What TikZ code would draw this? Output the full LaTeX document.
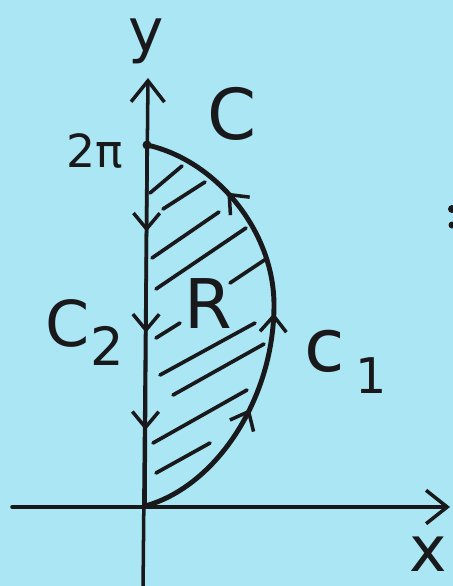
\documentclass[tikz,border=0pt]{standalone}
\usepackage{fontspec}
\setmainfont{DejaVu Sans}
\usetikzlibrary{arrows.meta,decorations.markings}
\definecolor{bgblue}{RGB}{170,230,244}
\definecolor{ink}{RGB}{25,25,28}
\begin{document}
\begin{tikzpicture}[x=0.02cm,y=-0.02cm,
  axisline/.style={draw=ink,line width=2pt,line cap=round},
  curveline/.style={draw=ink,line width=2.8pt,line cap=round},
  hatchline/.style={draw=ink,line width=2.1pt,line cap=round},
  bigbarb/.style={-{Straight Barb[length=12pt,width=19pt,line width=2pt]}},
  lab/.style={text=ink,inner sep=0pt,outer sep=0pt},
  smallarrow/.tip={Straight Barb[length=9pt,width=15pt,line width=2pt]}
]
\fill[bgblue] (0,0) rectangle (453,586);
\useasboundingbox (0,0) rectangle (453,586);

% key points
\coordinate (O) at (145,506);
\coordinate (T) at (147,145);
\coordinate (M) at (274,305);
\coordinate (ytop) at (148,78);
\coordinate (ybot) at (143,592);
\coordinate (xl) at (12,507);
\coordinate (xr) at (450,507);

% axes
\draw[axisline,bigbarb] (xl) -- (xr);
\draw[axisline,bigbarb] (ybot) -- (ytop);

% C2 : down the y-axis with arrows
\draw[axisline,postaction={decorate},decoration={markings,
    mark=at position 0.24 with {\arrow[ink]{smallarrow}},
    mark=at position 0.52 with {\arrow[ink]{smallarrow}},
    mark=at position 0.79 with {\arrow[ink]{smallarrow}}}]
  (T) -- (O);

% C1 : the curve
\draw[curveline,postaction={decorate},decoration={markings,
    mark=at position 0.31 with {\arrow[ink]{smallarrow}},
    mark=at position 0.52 with {\arrow[ink]{smallarrow}},
    mark=at position 0.80 with {\arrow[ink]{smallarrow}}}]
  (O) .. controls (215,487) and (274,400) .. (M)
      .. controls (274,230) and (215,160) .. (T);

% point at 2pi
\fill[ink] (T) circle[radius=4.5];

% hatching
\draw[hatchline] (150,193) -- (182,166);
\draw[hatchline] (163,209) -- (205,182);
\draw[hatchline] (152,258) -- (219,212);
\draw[hatchline] (156,289) -- (246,228);
\draw[hatchline] (230,283) -- (266,259);
\draw[hatchline] (156,338) -- (180,323);
\draw[hatchline] (160,375) -- (255,323);
\draw[hatchline] (173,395) -- (264,344);
\draw[hatchline] (153,443) -- (247,390);
\draw[hatchline] (156,473) -- (210,443);

% labels
\node[lab,font=\fontsize{34}{34}\selectfont] (ylab) at (146,41) {y};
\node[lab,font=\fontsize{36}{36}\selectfont] (xlab) at (428,554) {x};
\node[lab,font=\fontsize{26}{26}\selectfont] (twopi) at (95,151) {2π};
\node[lab,font=\fontsize{40}{40}\selectfont] (Clab) at (232,114) {C};
\node[lab,font=\fontsize{39}{39}\selectfont] (Rlab) at (208,304) {R};
\node[lab,font=\fontsize{36}{36}\selectfont,anchor=west] (C2lab) at (46,333)
  {C\raisebox{-0.3em}{\fontsize{30}{30}\selectfont 2}};
\node[lab,font=\fontsize{42}{42}\selectfont,anchor=west] (C1lab) at (304,362)
  {c\hspace{0.15em}\raisebox{-0.3em}{\fontsize{28}{28}\selectfont 1}};

% partial mark at right edge
\fill[ink] (452,209) circle[radius=4];
\fill[ink] (452,225) circle[radius=3.5];
\end{tikzpicture}
\end{document}
